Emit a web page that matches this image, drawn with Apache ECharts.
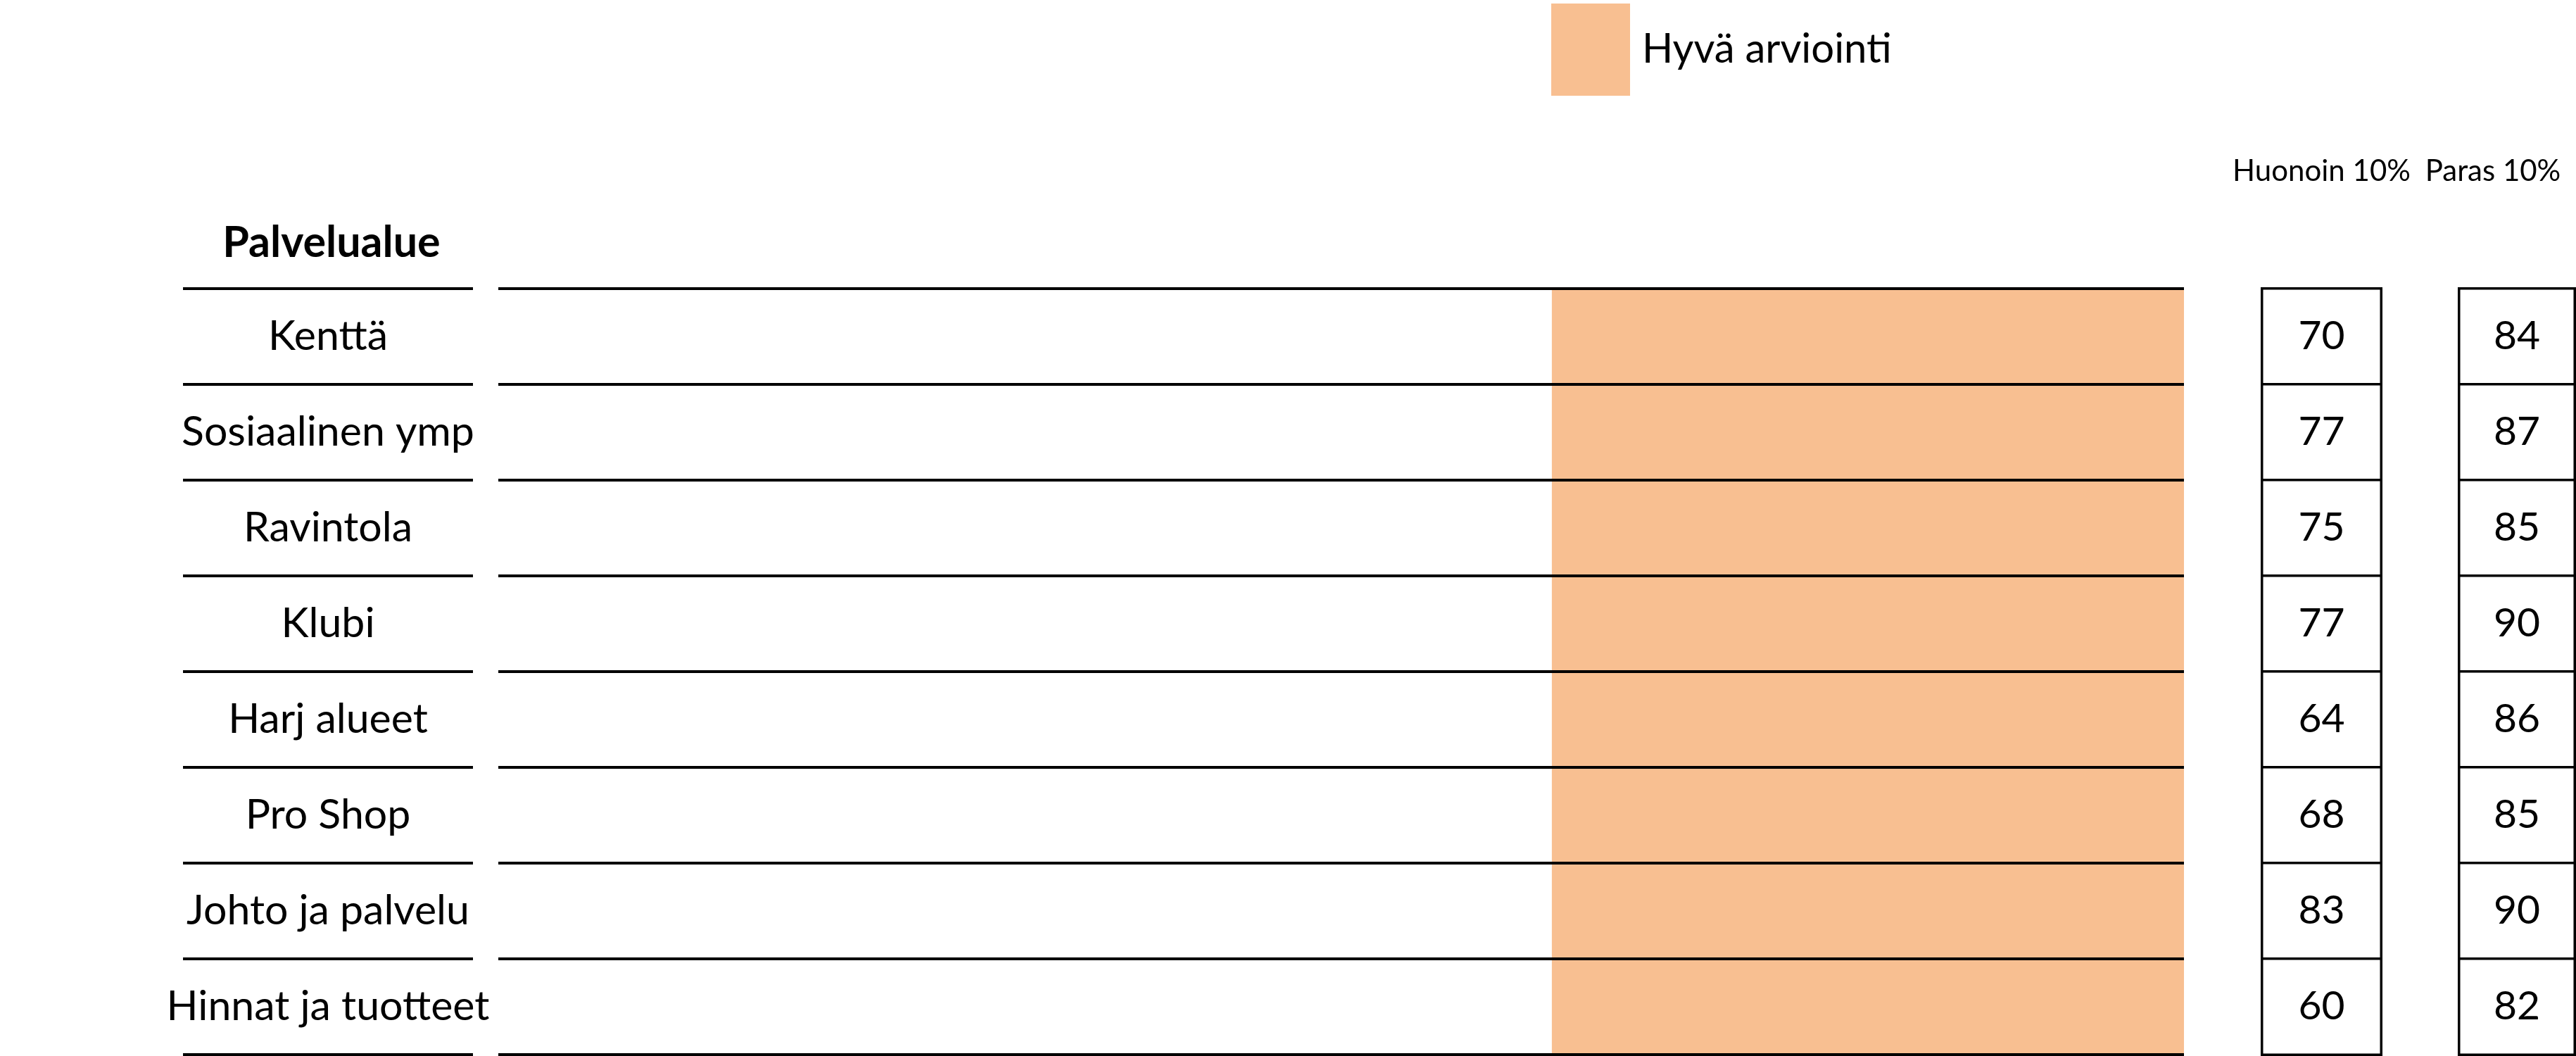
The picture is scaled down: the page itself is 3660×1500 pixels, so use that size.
<!DOCTYPE html>
<html>
<head>
<meta charset="utf-8">
<script src="https://cdn.jsdelivr.net/npm/echarts@6/dist/echarts.min.js"></script>
<style>
  html, body { margin: 0; padding: 0; background: #fff; }
  #main { width: 3660px; height: 1500px; }
</style>
</head>
<body>
<div id="main"></div>
<script>
var categories = ['Kenttä', 'Sosiaalinen ymp', 'Ravintola', 'Klubi', 'Harj alueet', 'Pro Shop', 'Johto ja palvelu', 'Hinnat ja tuotteet'];
var goodLow = [62.5, 62.5, 62.5, 62.5, 62.5, 62.5, 62.5, 62.5];
var goodHigh = [100, 100, 100, 100, 100, 100, 100, 100];
var worst10 = [70, 77, 75, 77, 64, 68, 83, 60];
var best10 = [84, 87, 85, 90, 86, 85, 90, 82];

var FONT = 'Lato';
var LINE = 4;

var bandSize = [];
for (var i = 0; i < categories.length; i++) {
    bandSize.push(goodHigh[i] - goodLow[i]);
}
function cells(vals) {
    var out = [];
    for (var i = 0; i < vals.length; i++) {
        out.push([0, i, vals[i]]);
    }
    return out;
}

var myEcharts = echarts.init(document.getElementById('main'));

var catAxis = {
    type: 'category',
    data: categories,
    inverse: true,
    axisLine: { show: false },
    axisTick: { show: false },
    axisLabel: { show: false },
    splitLine: { show: true, lineStyle: { color: '#000', width: LINE } },
    z: 5
};

option = {
    animation: false,
    backgroundColor: '#fff',
    textStyle: { fontFamily: FONT, color: '#000' },
    title: {
        text: 'Palvelualue',
        left: 466,
        top: 310,
        textAlign: 'center',
        textStyle: { fontFamily: FONT, fontSize: 61, fontWeight: 'bold', color: '#000' }
    },
    legend: {
        data: ['Hyvä arviointi'],
        left: 2199,
        top: 0,
        icon: 'rect',
        itemWidth: 112,
        itemHeight: 131,
        textStyle: { fontFamily: FONT, fontSize: 58, color: '#000', padding: [0, 0, 0, 12] }
    },
    grid: [
        { left: 260, width: 412, top: 410, height: 1088 },
        { left: 708, width: 2395, top: 410, height: 1088 },
        { left: 3214, width: 169, top: 410, height: 1088 },
        { left: 3494, width: 164, top: 410, height: 1088 }
    ],
    xAxis: [
        { gridIndex: 0, type: 'value', show: false },
        { gridIndex: 1, type: 'value', min: 0, max: 100, show: false },
        {
            gridIndex: 2, type: 'category', data: ['Huonoin 10%'], position: 'top',
            axisLine: { show: false }, axisTick: { show: false },
            axisLabel: { fontFamily: FONT, fontSize: 42, color: '#000', margin: 146 }
        },
        {
            gridIndex: 3, type: 'category', data: ['Paras 10%'], position: 'top',
            axisLine: { show: false }, axisTick: { show: false },
            axisLabel: { fontFamily: FONT, fontSize: 42, color: '#000', margin: 146, padding: [0, 68, 0, 0] }
        }
    ],
    yAxis: [
        Object.assign({ gridIndex: 0 }, catAxis),
        Object.assign({}, catAxis, {
            gridIndex: 1,
            axisLabel: {
                show: true, align: 'center', margin: 242,
                fontFamily: FONT, fontSize: 59, color: '#000'
            }
        }),
        Object.assign({}, catAxis, { gridIndex: 2, splitLine: { show: false } }),
        Object.assign({}, catAxis, { gridIndex: 3, splitLine: { show: false } })
    ],
    series: [
        {
            name: 'base',
            type: 'bar',
            xAxisIndex: 1,
            yAxisIndex: 1,
            stack: 'band',
            barWidth: '100%',
            itemStyle: { color: 'rgba(0,0,0,0)' },
            silent: true,
            data: goodLow
        },
        {
            name: 'Hyvä arviointi',
            type: 'bar',
            xAxisIndex: 1,
            yAxisIndex: 1,
            stack: 'band',
            barWidth: '100%',
            itemStyle: { color: '#F8BF91' },
            data: bandSize
        },
        {
            name: 'Huonoin 10%',
            type: 'heatmap',
            xAxisIndex: 2,
            yAxisIndex: 2,
            itemStyle: { color: '#fff', borderColor: '#000', borderWidth: 3.5 },
            label: {
                show: true, fontFamily: FONT, fontSize: 57, color: '#000',
                formatter: function (p) { return p.value[2]; }
            },
            data: cells(worst10)
        },
        {
            name: 'Paras 10%',
            type: 'heatmap',
            xAxisIndex: 3,
            yAxisIndex: 3,
            itemStyle: { color: '#fff', borderColor: '#000', borderWidth: 3.5 },
            label: {
                show: true, fontFamily: FONT, fontSize: 57, color: '#000',
                formatter: function (p) { return p.value[2]; }
            },
            data: cells(best10)
        }
    ]
};
myEcharts.setOption(option);
</script>
</body>
</html>
